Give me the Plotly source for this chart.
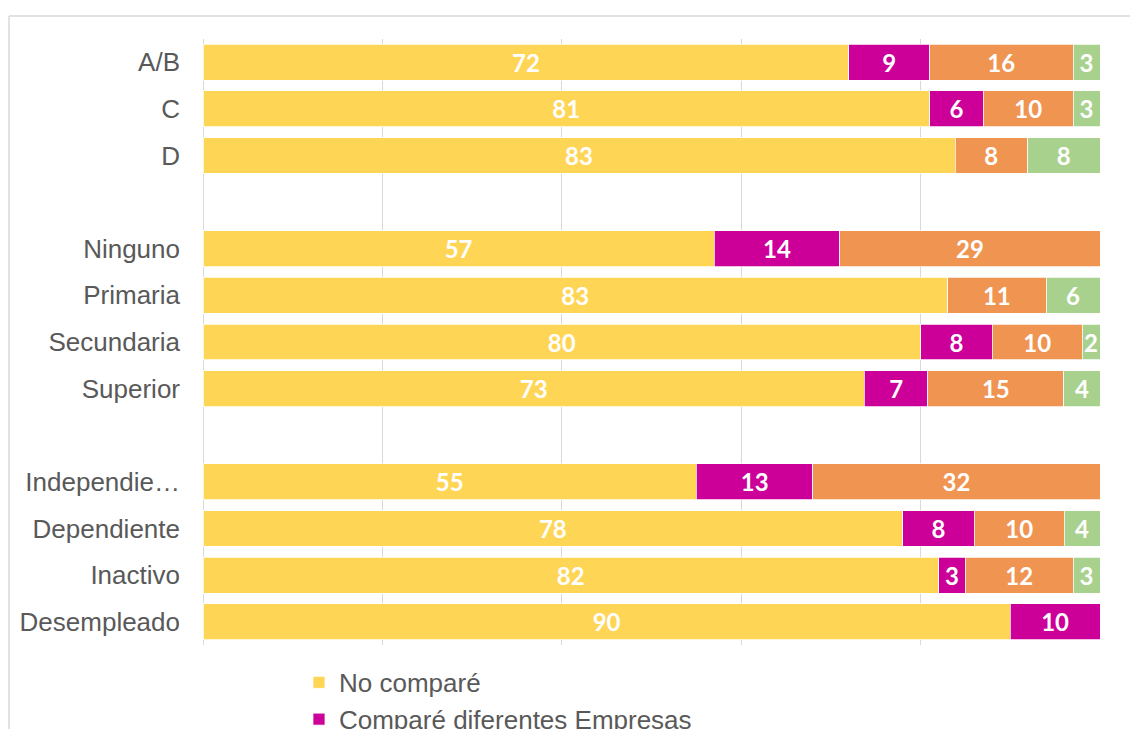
import plotly.graph_objects as go

# ---- data (top to bottom) ----
categories = ["A/B", "C", "D", "gap1", "Ninguno", "Primaria", "Secundaria", "Superior",
              "gap2", "Independiente", "Dependiente", "Inactivo", "Desempleado"]
tick_labels = ["A/B", "C", "D", "", "Ninguno", "Primaria", "Secundaria", "Superior",
               "", "Independie…", "Dependiente", "Inactivo", "Desempleado"]

no_compare = [72, 81, 83, None, 57, 83, 80, 73, None, 55, 78, 82, 90]
compare_dif = [9, 6, None, None, 14, None, 8, 7, None, 13, 8, 3, 10]
same_company = [16, 10, 8, None, 29, 11, 10, 15, None, 32, 10, 12, None]
no_answer = [3, 3, 8, None, None, 6, 2, 4, None, None, 4, 3, None]

series_names = ["No comparé", "Comparé diferentes Empresas",
                "Compré en la misma empresa", "No sabe / No responde"]
series_values = [no_compare, compare_dif, same_company, no_answer]
series_colors = ["#FFD555", "#CC0099", "#F09452", "#A9D18E"]

fig = go.Figure()
for name, vals, col in zip(series_names, series_values, series_colors):
    fig.add_trace(go.Bar(
        y=categories, x=vals, name=name, orientation="h",
        marker=dict(color=col, line=dict(color="white", width=0.75)),
        text=["" if v is None else str(v) for v in vals],
        texttemplate="%{text}",
        textposition="inside", insidetextanchor="middle",
        textangle=0, constraintext="none",
        insidetextfont=dict(family="Lato", size=24, color="white", weight="bold"),
        hoverinfo="x+y+name",
    ))

W, H = 1122, 721
fig.update_layout(
    width=W, height=H,
    barmode="stack", barnorm="percent", bargap=0.23,
    plot_bgcolor="white", paper_bgcolor="white",
    margin=dict(l=195, r=30, t=31, b=H - 637, autoexpand=False),
    font=dict(family="Liberation Sans, Arial", size=26, color="#595959"),
    xaxis=dict(range=[0, 100], dtick=20, showticklabels=False, showgrid=True,
               gridcolor="#D9D9D9", gridwidth=1, zeroline=True,
               zerolinecolor="#D9D9D9", zerolinewidth=1, showline=False, fixedrange=True),
    yaxis=dict(categoryorder="array", categoryarray=categories,
               tickvals=categories, ticktext=tick_labels,
               autorange="reversed", showgrid=False, zeroline=False, showline=False,
               ticks="", ticklabelstandoff=22,
               tickfont=dict(family="Liberation Sans, Arial", size=26, color="#595959")),
    legend=dict(orientation="v", x=0.107, xanchor="left", y=-0.023, yanchor="top",
                font=dict(family="Liberation Sans, Arial", size=26, color="#595959"),
                bgcolor="rgba(0,0,0,0)", traceorder="normal", itemwidth=30,
                tracegroupgap=0),
    showlegend=True,
    shapes=[
        dict(type="line", xref="paper", yref="paper", xsizemode="pixel", ysizemode="pixel",
             xanchor=0, yanchor=1, x0=-194, x1=1000, y0=23, y1=23,
             line=dict(color="#D9D9D9", width=1.5)),
        dict(type="line", xref="paper", yref="paper", xsizemode="pixel", ysizemode="pixel",
             xanchor=0, yanchor=1, x0=-194, x1=-194, y0=23, y1=-1000,
             line=dict(color="#D9D9D9", width=1.5)),
    ],
)

fig.write_html("out.html")
